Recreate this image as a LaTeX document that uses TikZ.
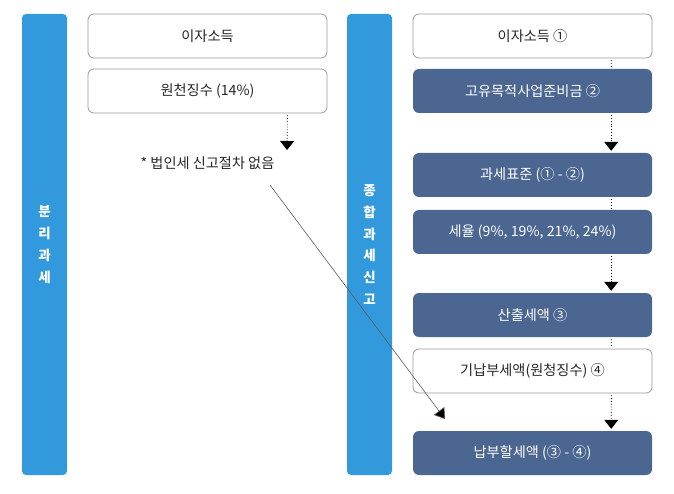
\documentclass[tikz,border=0pt]{standalone}
\usepackage{fontspec}
\setmainfont{Noto Sans CJK KR}
\usetikzlibrary{arrows.meta}

\definecolor{barblue}{HTML}{3399DD}
\definecolor{boxblue}{HTML}{4B6690}
\definecolor{boxline}{HTML}{9A9A9A}

\begin{document}
\begin{tikzpicture}[x=1pt, y=-1pt,
	sidebar/.style={fill=barblue, rounded corners=4pt, minimum width=45pt, minimum height=461pt, inner sep=0pt, text=white, align=center, font=\fontsize{13.5}{21.8}\selectfont\bfseries},
	whitebox/.style={draw=boxline, line width=0.8pt, rounded corners=6pt, minimum width=239pt, minimum height=44pt, inner sep=0pt, text=black!85, font=\fontsize{14.2}{16}\selectfont},
	darkbox/.style={fill=boxblue, rounded corners=6pt, minimum width=239pt, minimum height=44pt, inner sep=0pt, text=white, font=\fontsize{14.2}{16}\selectfont},
	dotline/.style={dotted, line width=0.8pt, shorten <=2pt, shorten >=2pt},
	dotarrow/.style={dotted, line width=0.8pt, shorten <=2pt, shorten >=2pt, -{Triangle[width=14pt, length=9pt]}}
	]
				
				\useasboundingbox (0,0) rectangle (674,494);
				
				% separate taxation
				\node[sidebar] (LBar) at (44.5,244.5) {분\\리\\과\\세};
				\node[whitebox] (LIncome) at (207.5,36) {이자소득};
				\node[whitebox] (LWithhold) at (207.5,91) {원천징수 (14\%)};
				\node[text=black!85, font=\fontsize{14.2}{16}\selectfont] (LNote) at (207.5,163) {* 법인세 신고절차 없음};
				\coordinate (LTip) at (287,152);
				\draw[dotarrow] ([xshift=-40pt]LWithhold.south east) -- (LTip);
				
				% comprehensive taxation
				\node[sidebar] (RBar) at (369.5,244.5) {종\\합\\과\\세\\신\\고};
				\node[whitebox] (RIncome) at (532.5,36) {이자소득 ①};
				\node[darkbox] (RReserve) at (532.5,91) {고유목적사업준비금 ②};
				\node[darkbox] (RBase) at (532.5,175) {과세표준 (① - ②)};
				\node[darkbox] (RRate) at (532.5,232) {세율 (9\%, 19\%, 21\%, 24\%)};
				\node[darkbox] (RCalc) at (532.5,315) {산출세액 ③};
				\node[whitebox] (RPaid) at (532.5,371) {기납부세액(원청징수) ④};
				\node[darkbox] (RDue) at (532.5,453) {납부할세액 (③ - ④)};
				
				\draw[dotline] ([xshift=-41pt]RIncome.south east) -- ([xshift=-41pt]RReserve.north east);
				\draw[dotarrow] ([xshift=-41pt]RReserve.south east) -- ([xshift=-41pt]RBase.north east);
				\draw[dotline] ([xshift=-41pt]RBase.south east) -- ([xshift=-41pt]RRate.north east);
				\draw[dotarrow] ([xshift=-41pt]RRate.south east) -- ([xshift=-41pt]RCalc.north east);
				\draw[dotline] ([xshift=-41pt]RCalc.south east) -- ([xshift=-41pt]RPaid.north east);
				\draw[dotarrow] ([xshift=-41pt]RPaid.south east) -- ([xshift=-41pt]RDue.north east);
				
				% note to amount due
				\coordinate (NoteStart) at (270,185);
				\coordinate (NoteEnd) at (445,419);
				\draw[draw=black!65, line width=0.6pt, -{Triangle[width=13pt, length=10pt, fill=black]}] (NoteStart) -- (NoteEnd);
				
			\end{tikzpicture}
\end{document}
